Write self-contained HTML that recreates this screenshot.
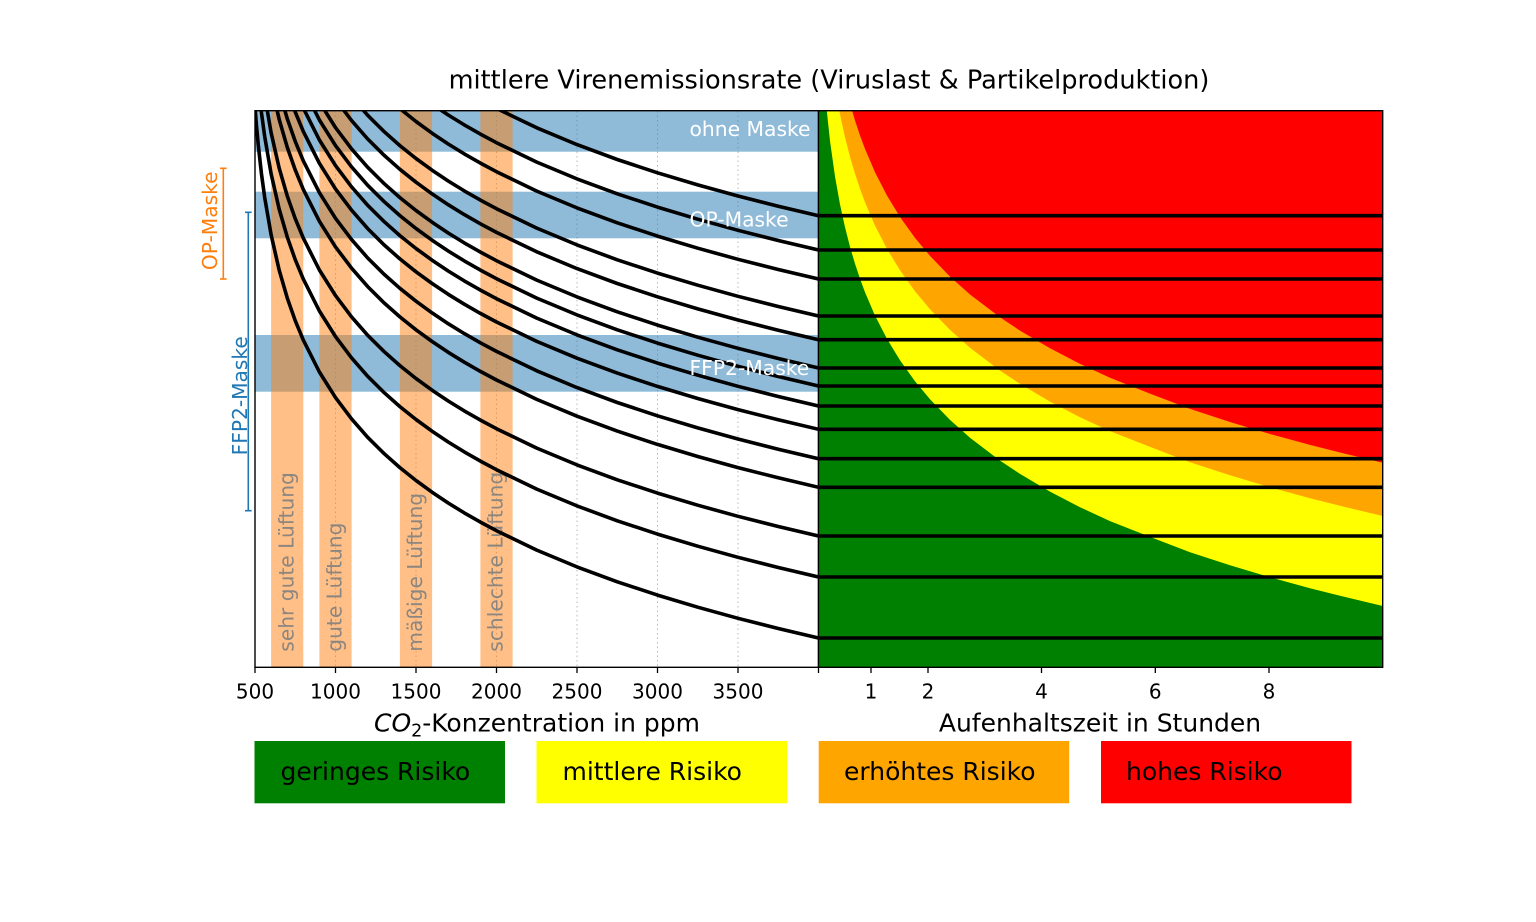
<!DOCTYPE html>
<html>
<head>
<meta charset="utf-8">
<style>
  html, body { margin: 0; padding: 0; background: #ffffff; }
  svg { display: block; }
</style>
</head>
<body>
<svg width="1536" height="922" viewBox="0 0 1536 922" xmlns="http://www.w3.org/2000/svg" font-family="'DejaVu Sans', 'Liberation Sans', sans-serif">
  <defs>
    <clipPath id="cl"><rect x="255" y="110.7" width="563.5" height="556.6"/></clipPath>
    <clipPath id="cr"><rect x="818.5" y="110.7" width="564.2" height="556.6"/></clipPath>
    <path id="crv" fill="none" stroke="#000" stroke-width="3.6" stroke-linejoin="round"
      d="M250,-620 L255,-530.8 L256.61,-510.8 L258.22,-493.4 L261.44,-464.4 L264.66,-440.7 L271.1,-403.3 L279.15,-368 L287.2,-340.2 L295.25,-317.3 L303.3,-297.9 L319.4,-266 L335.5,-240.4 L351.6,-219.1 L367.7,-200.7 L383.8,-184.7 L399.9,-170.4 L416,-157.5 L432.1,-145.8 L448.2,-135 L464.3,-125.1 L480.4,-115.9 L496.5,-107.3 L536.75,-87.9 L577,-71.1 L617.25,-56.2 L657.5,-42.9 L697.75,-30.8 L738,-19.7 L778.25,-9.5 L818.5,0"/>
    <path id="bnd"
      d="M818.3,-638 L822,-555.9 L826,-502.7 L830,-465 L835,-429.5 L840,-401.6 L845,-378.7 L850,-359.2 L855,-342.2 L860,-327.2 L865,-313.8 L875,-290.4 L887,-267.1 L900,-245.7 L915,-224.8 L930,-206.8 L950,-186.1 L970,-168.2 L1000,-145.4 L1020,-132.1 L1050,-114.4 L1080,-98.8 L1110,-84.9 L1150,-69.1 L1190,-53.8 L1230,-40.7 L1270,-28.7 L1310,-17.8 L1340,-10.2 L1382.7,0 L1395,2 L1395,-1000 L810,-1000 L810,-638 Z"/>
  </defs>

  <!-- Title -->
  <text x="829" y="88.3" font-size="25.6" text-anchor="middle" fill="#000">mittlere Virenemissionsrate (Viruslast &amp; Partikelproduktion)</text>

  <!-- LEFT PANEL -->
  <g clip-path="url(#cl)">
    <g stroke="#b8b8b8" stroke-width="1" stroke-dasharray="1.5,3">
      <line x1="335.5" y1="111" x2="335.5" y2="667"/>
      <line x1="416" y1="111" x2="416" y2="667"/>
      <line x1="496.5" y1="111" x2="496.5" y2="667"/>
      <line x1="577" y1="111" x2="577" y2="667"/>
      <line x1="657.5" y1="111" x2="657.5" y2="667"/>
      <line x1="738" y1="111" x2="738" y2="667"/>
    </g>
    <g fill="#1f77b4" fill-opacity="0.5">
      <rect x="255" y="110.7" width="563.5" height="41"/>
      <rect x="255" y="191.7" width="563.5" height="46.6"/>
      <rect x="255" y="335" width="563.5" height="56.7"/>
    </g>
    <g fill="#ff7f0e" fill-opacity="0.5">
      <rect x="271.1" y="110.7" width="32.2" height="556.6"/>
      <rect x="319.4" y="110.7" width="32.2" height="556.6"/>
      <rect x="399.9" y="110.7" width="32.2" height="556.6"/>
      <rect x="480.4" y="110.7" width="32.2" height="556.6"/>
    </g>
    <g font-size="20.2" fill="#808080" fill-opacity="0.9">
      <text transform="translate(293.3,651.7) rotate(-90)">sehr gute Lüftung</text>
      <text transform="translate(341.6,651.7) rotate(-90)">gute Lüftung</text>
      <text transform="translate(422.1,651.7) rotate(-90)">mäßige Lüftung</text>
      <text transform="translate(502.6,651.7) rotate(-90)">schlechte Lüftung</text>
    </g>
    <use href="#crv" transform="translate(0,215.7)"/>
    <use href="#crv" transform="translate(0,250)"/>
    <use href="#crv" transform="translate(0,279)"/>
    <use href="#crv" transform="translate(0,316)"/>
    <use href="#crv" transform="translate(0,339.7)"/>
    <use href="#crv" transform="translate(0,368)"/>
    <use href="#crv" transform="translate(0,386)"/>
    <use href="#crv" transform="translate(0,406)"/>
    <use href="#crv" transform="translate(0,429.3)"/>
    <use href="#crv" transform="translate(0,458.7)"/>
    <use href="#crv" transform="translate(0,487.3)"/>
    <use href="#crv" transform="translate(0,536)"/>
    <use href="#crv" transform="translate(0,577)"/>
    <use href="#crv" transform="translate(0,638)"/>
    <g font-size="20.3" fill="#ffffff">
      <text x="689.5" y="136">ohne Maske</text>
      <text x="689.5" y="226.7">OP-Maske</text>
      <text x="689.5" y="375">FFP2-Maske</text>
    </g>
  </g>
  <rect x="255" y="110.7" width="563.5" height="556.6" fill="none" stroke="#000" stroke-width="1.4"/>

  <!-- RIGHT PANEL -->
  <g clip-path="url(#cr)">
    <rect x="818.5" y="110.7" width="564.2" height="556.6" fill="#008000"/>
    <use href="#bnd" transform="translate(0,606)" fill="#ffff00"/>
    <use href="#bnd" transform="translate(0,516)" fill="#ffa500"/>
    <use href="#bnd" transform="translate(0,462.7)" fill="#ff0000"/>
    <path fill="none" stroke="#000" stroke-width="3.6"
      d="M818.5,215.7H1382.7 M818.5,250H1382.7 M818.5,279H1382.7 M818.5,316H1382.7 M818.5,339.7H1382.7 M818.5,368H1382.7 M818.5,386H1382.7 M818.5,406H1382.7 M818.5,429.3H1382.7 M818.5,458.7H1382.7 M818.5,487.3H1382.7 M818.5,536H1382.7 M818.5,577H1382.7 M818.5,638H1382.7"/>
  </g>
  <rect x="818.5" y="110.7" width="564.2" height="556.6" fill="none" stroke="#000" stroke-width="1.4"/>

  <!-- X ticks -->
  <g stroke="#000" stroke-width="1.3">
    <line x1="255" y1="667.3" x2="255" y2="673"/>
    <line x1="335.5" y1="667.3" x2="335.5" y2="673"/>
    <line x1="416" y1="667.3" x2="416" y2="673"/>
    <line x1="496.5" y1="667.3" x2="496.5" y2="673"/>
    <line x1="577" y1="667.3" x2="577" y2="673"/>
    <line x1="657.5" y1="667.3" x2="657.5" y2="673"/>
    <line x1="738" y1="667.3" x2="738" y2="673"/>
    <line x1="818.5" y1="667.3" x2="818.5" y2="673"/>
    <line x1="871" y1="667.3" x2="871" y2="673"/>
    <line x1="928" y1="667.3" x2="928" y2="673"/>
    <line x1="1041.5" y1="667.3" x2="1041.5" y2="673"/>
    <line x1="1155.3" y1="667.3" x2="1155.3" y2="673"/>
    <line x1="1269" y1="667.3" x2="1269" y2="673"/>
  </g>
  <g font-size="20" fill="#000" text-anchor="middle">
    <text x="255" y="698.5">500</text>
    <text x="335.5" y="698.5">1000</text>
    <text x="416" y="698.5">1500</text>
    <text x="496.5" y="698.5">2000</text>
    <text x="577" y="698.5">2500</text>
    <text x="657.5" y="698.5">3000</text>
    <text x="738" y="698.5">3500</text>
    <text x="871" y="698.5">1</text>
    <text x="928" y="698.5">2</text>
    <text x="1041.5" y="698.5">4</text>
    <text x="1155.3" y="698.5">6</text>
    <text x="1269" y="698.5">8</text>
  </g>

  <!-- Axis labels -->
  <text x="537" y="731.5" font-size="25" text-anchor="middle" fill="#000"><tspan font-style="italic">CO</tspan><tspan font-size="17.5" dy="5">2</tspan><tspan dy="-5">-Konzentration in ppm</tspan></text>
  <text x="1100" y="731.5" font-size="25" text-anchor="middle" fill="#000">Aufenhaltszeit in Stunden</text>

  <!-- Left annotations -->
  <g stroke="#ff7f0e" stroke-width="1.6" fill="none">
    <line x1="223.3" y1="168.3" x2="223.3" y2="279"/>
    <line x1="220" y1="168.3" x2="226.6" y2="168.3"/>
    <line x1="220" y1="279" x2="226.6" y2="279"/>
  </g>
  <text transform="translate(217,220.8) rotate(-90)" font-size="20.2" fill="#ff7f0e" text-anchor="middle">OP-Maske</text>
  <g stroke="#1f77b4" stroke-width="1.6" fill="none">
    <line x1="248.3" y1="212.3" x2="248.3" y2="510.7"/>
    <line x1="245" y1="212.3" x2="251.6" y2="212.3"/>
    <line x1="245" y1="510.7" x2="251.6" y2="510.7"/>
  </g>
  <text transform="translate(247,395.8) rotate(-90)" font-size="20.2" fill="#1f77b4" text-anchor="middle">FFP2-Maske</text>

  <!-- Legend boxes -->
  <rect x="254.5" y="741" width="250.5" height="62.3" fill="#008000"/>
  <rect x="536.5" y="741" width="250.5" height="62.3" fill="#ffff00"/>
  <rect x="818.7" y="741" width="250.5" height="62.3" fill="#ffa500"/>
  <rect x="1101" y="741" width="250.5" height="62.3" fill="#ff0000"/>
  <g font-size="25" fill="#000">
    <text x="280.5" y="780">geringes Risiko</text>
    <text x="562.5" y="780">mittlere Risiko</text>
    <text x="844" y="780">erhöhtes Risiko</text>
    <text x="1126" y="780">hohes Risiko</text>
  </g>
</svg>
</body>
</html>
